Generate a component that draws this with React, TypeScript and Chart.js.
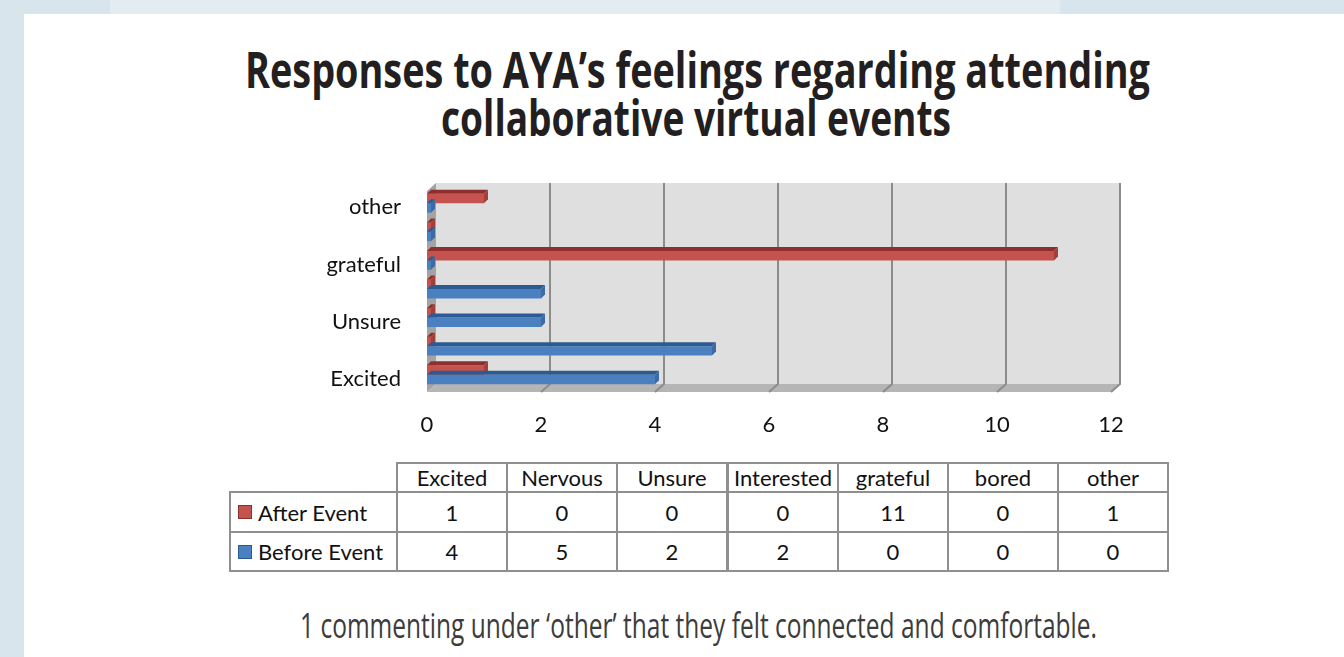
import React, { useEffect, useLayoutEffect, useRef } from "react";
import { Chart, registerables } from "chart.js";

Chart.register(...registerables);

// ---------- data ----------
const categories = ["Excited", "Nervous", "Unsure", "Interested", "grateful", "bored", "other"];
const afterEvent = [1, 0, 0, 0, 11, 0, 1];
const beforeEvent = [4, 5, 2, 2, 0, 0, 0];
const seriesNames = ["After Event", "Before Event"];
const xMin = 0;
const xMax = 12;
const xStep = 2;
const titleLines = ["Responses to AYA’s feelings regarding attending", "collaborative virtual events"];
const footnote = "1 commenting under ‘other’ that they felt connected and comfortable.";

// ---------- style ----------
const RED = "#c4524f";
const RED_TOP = "#8e2f2d";
const RED_SIDE = "#a33e3b";
const BLUE = "#4a80c0";
const BLUE_TOP = "#2c5a92";
const BLUE_SIDE = "#3b6aa5";
const LABEL_FONT = "Lato, 'Open Sans', sans-serif";
const HUM_FONT = "'Open Sans', 'Noto Sans', sans-serif";

const DX = 9;
const DY = 8;

const threeD = {
  id: "threeD",
  beforeDatasetsDraw(chart: any) {
    const { ctx, chartArea: a } = chart;
    const xs = chart.scales.x;
    const fl = a.left;
    const fr = a.right;
    const fb = a.bottom + 3;
    const bb = fb - DY;
    const wt = a.top - 6;
    const poly = (pts: number[][], fill: string) => {
      ctx.beginPath();
      ctx.moveTo(pts[0][0], pts[0][1]);
      for (let i = 1; i < pts.length; i++) ctx.lineTo(pts[i][0], pts[i][1]);
      ctx.closePath();
      ctx.fillStyle = fill;
      ctx.fill();
    };
    ctx.save();
    poly([[fl + DX, wt], [fr + DX, wt], [fr + DX, bb], [fl + DX, bb]], "#dfdfdf");
    poly([[fl, fb], [fl + DX, bb], [fl + DX, wt], [fl, wt + DY]], "#a3a3a3");
    poly([[fl, fb], [fr, fb], [fr + DX, bb], [fl + DX, bb]], "#b5b5b5");
    ctx.strokeStyle = "#8c8c8c";
    ctx.lineWidth = 2;
    for (let v = xMin + xStep; v <= xMax; v += xStep) {
      const px = xs.getPixelForValue(v);
      ctx.beginPath();
      ctx.moveTo(px + DX, wt);
      ctx.lineTo(px + DX, bb);
      ctx.lineTo(px, fb);
      ctx.stroke();
    }
    ctx.restore();
  },
  afterDatasetsDraw(chart: any) {
    const { ctx } = chart;
    ctx.save();
    chart.data.datasets.forEach((_ds: any, di: number) => {
      const meta = chart.getDatasetMeta(di);
      const topCol = di === 0 ? RED_TOP : BLUE_TOP;
      const sideCol = di === 0 ? RED_SIDE : BLUE_SIDE;
      meta.data.forEach((el: any) => {
        const { x, y, base, height } = el.getProps(["x", "y", "base", "height"], true);
        const t = y - height / 2;
        const b = y + height / 2;
        const d = 4;
        ctx.fillStyle = topCol;
        ctx.beginPath();
        ctx.moveTo(base, t);
        ctx.lineTo(x, t);
        ctx.lineTo(x + d, t - d);
        ctx.lineTo(base + d, t - d);
        ctx.closePath();
        ctx.fill();
        ctx.fillStyle = sideCol;
        ctx.beginPath();
        ctx.moveTo(x, t);
        ctx.lineTo(x + d, t - d);
        ctx.lineTo(x + d, b - d);
        ctx.lineTo(x, b);
        ctx.closePath();
        ctx.fill();
      });
    });
    ctx.restore();
  },
};

function FitText(props: { text: string; left: number; top: number; width: number; weight: number; color: string; size: number }) {
  const ref = useRef<HTMLSpanElement>(null);
  useLayoutEffect(() => {
    const fit = () => {
      const el = ref.current;
      if (!el) return;
      el.style.transform = "none";
      const w = el.getBoundingClientRect().width;
      if (w > 0) el.style.transform = `scaleX(${props.width / w})`;
    };
    fit();
    (document as any).fonts?.ready?.then(fit);
  }, []);
  return (
    <span
      ref={ref}
      style={{
        position: "absolute",
        left: props.left,
        top: props.top,
        whiteSpace: "nowrap",
        transformOrigin: "0 0",
        fontFamily: HUM_FONT,
        fontWeight: props.weight,
        fontSize: props.size,
        lineHeight: `${props.size}px`,
        color: props.color,
      }}
    >
      {props.text}
    </span>
  );
}

function BarChart() {
  const ref = useRef<HTMLCanvasElement>(null);
  useEffect(() => {
    if (!ref.current) return;
    const chart = new Chart(ref.current, {
      type: "bar",
      data: {
        labels: categories,
        datasets: [
          { label: seriesNames[0], data: afterEvent, backgroundColor: RED, minBarLength: 4 },
          { label: seriesNames[1], data: beforeEvent, backgroundColor: BLUE, minBarLength: 4 },
        ],
      },
      options: {
        indexAxis: "y",
        animation: false,
        responsive: false,
        maintainAspectRatio: false,
        layout: { padding: { top: 19, right: 49, left: 0, bottom: 0 } },
        datasets: { bar: { categoryPercentage: 0.66, barPercentage: 1 } },
        plugins: { legend: { display: false }, title: { display: false }, tooltip: { enabled: false } },
        scales: {
          x: {
            min: xMin,
            max: xMax,
            ticks: { stepSize: xStep, padding: 23, color: "#111", font: { family: LABEL_FONT, size: 22 } },
            grid: { display: false, drawTicks: false },
            border: { display: false },
            afterFit(s: any) {
              s.height = 51;
              s.paddingLeft = 0;
              s.paddingRight = 0;
            },
          },
          y: {
            reverse: true,
            ticks: {
              autoSkip: false,
              padding: 26,
              labelOffset: 4,
              color: "#111",
              font: { family: LABEL_FONT, size: 22 },
              callback: (_v: any, i: number) => (i % 2 === 0 ? categories[i] : ""),
            },
            grid: { display: false, drawTicks: false },
            border: { display: false },
            afterFit(s: any) {
              s.width = 147;
              s.paddingTop = 0;
              s.paddingBottom = 0;
            },
          },
        },
      } as any,
      plugins: [threeD],
    });
    return () => chart.destroy();
  }, []);
  return <canvas ref={ref} width={880} height={270} style={{ position: "absolute", left: 280, top: 170 }} />;
}

function DataTable() {
  const colStart = 229;
  const headW = 167;
  const colW = 110.2;
  const rowTop = 462;
  const rowH = [29, 40, 39];
  const border = "2px solid #8f8f8f";
  const cells: any[] = [];
  const colLeft = (i: number) => colStart + headW + colW * i;
  const rowY = (j: number) => rowTop + rowH.slice(0, j).reduce((s, h) => s + h, 0);
  const cellStyle = (l: number, t: number, w: number, h: number): React.CSSProperties => ({
    position: "absolute",
    left: Math.round(l),
    top: t,
    width: Math.round(w) + 2,
    height: h + 2,
    boxSizing: "border-box",
    border,
    display: "flex",
    alignItems: "center",
    justifyContent: "center",
    fontFamily: LABEL_FONT,
    fontSize: 22,
    color: "#111",
    whiteSpace: "nowrap",
  });
  categories.forEach((c, i) => {
    cells.push(
      <div key={"h" + i} style={cellStyle(colLeft(i), rowY(0), colW, rowH[0])}>
        {c}
      </div>
    );
  });
  const rows = [
    { name: seriesNames[0], vals: afterEvent, col: RED, edge: "#8e2f2d" },
    { name: seriesNames[1], vals: beforeEvent, col: BLUE, edge: "#2c5a92" },
  ];
  rows.forEach((r, j) => {
    const y = rowY(j + 1);
    cells.push(
      <div key={"r" + j} style={{ ...cellStyle(colStart, y, headW, rowH[j + 1]), justifyContent: "flex-start", paddingLeft: 7 }}>
        <span style={{ display: "inline-block", width: 12, height: 12, background: r.col, border: `1px solid ${r.edge}`, marginRight: 6 }} />
        {r.name}
      </div>
    );
    r.vals.forEach((v, i) => {
      cells.push(
        <div key={"c" + j + "_" + i} style={cellStyle(colLeft(i), y, colW, rowH[j + 1])}>
          {v}
        </div>
      );
    });
  });
  return <>{cells}</>;
}

export default function App() {
  return (
    <div style={{ position: "fixed", left: 0, top: 0, width: 1344, height: 657, background: "#d8e5ec", overflow: "hidden" }}>
      <div style={{ position: "absolute", left: 110, top: 0, width: 950, height: 14, background: "#e3ecf1" }} />
      <div style={{ position: "absolute", left: 24, top: 14, width: 1320, height: 643, background: "#ffffff" }} />
      <FitText text={titleLines[0]} left={245} top={44} width={905} weight={700} size={50} color="#231f20" />
      <FitText text={titleLines[1]} left={441} top={92} width={510} weight={700} size={50} color="#231f20" />
      <BarChart />
      <DataTable />
      <FitText text={footnote} left={300} top={607} width={797} weight={400} size={35} color="#3c3c3c" />
    </div>
  );
}
